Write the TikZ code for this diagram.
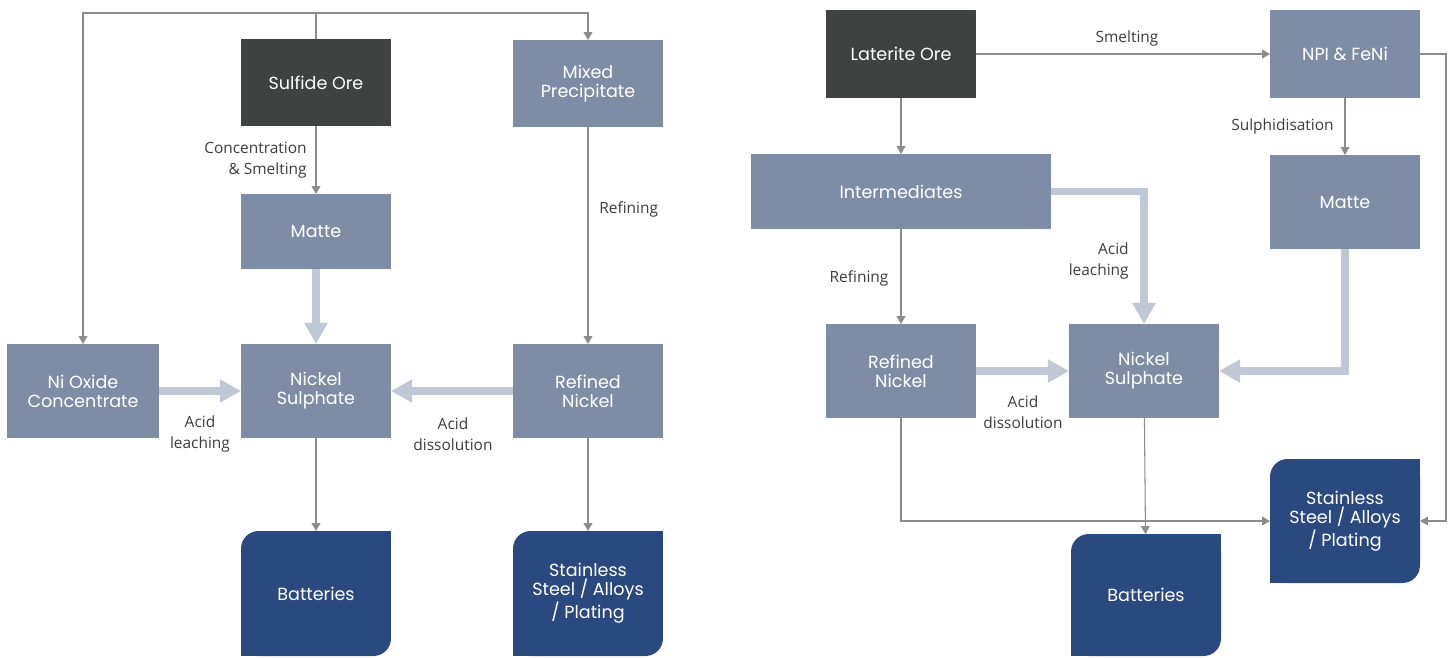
\documentclass[tikz,border=0pt]{standalone}
\usepackage{fontspec}
\newfontfamily\boxfont{Poppins}
\newfontfamily\notefont{Open Sans}
\usetikzlibrary{arrows.meta}
\definecolor{oredark}{HTML}{404241}
\definecolor{stepgrey}{HTML}{7F8CA6}
\definecolor{useblue}{HTML}{2A4A7F}
\definecolor{widearrow}{HTML}{C0C8D6}
\definecolor{thinline}{HTML}{8C8C8C}
\definecolor{notetext}{HTML}{3C3C3C}
\tikzset{
 proc/.style={fill=stepgrey, text=white, font=\boxfont\fontsize{10}{10.8}\selectfont, align=center,
  minimum width=3cm, minimum height=1.88cm, inner sep=0pt, outer sep=0pt},
 ore/.style={proc, fill=oredark},
 enduse/.style={proc, fill=useblue, rounded corners=10pt, minimum height=2.5cm},
 thin/.style={draw=thinline, line width=0.6pt, -{Triangle[length=4.5pt,width=5pt]}},
 wide/.style={draw=widearrow, line width=4.5pt, -{Triangle[length=12pt,width=12.5pt]}},
 note/.style={font=\notefont\fontsize{8.8}{11.9}\selectfont, text=notetext, align=center, inner sep=0pt}
}

\begin{document}
\begin{tikzpicture}[x=0.02cm, y=-0.02cm]
\useasboundingbox (0,0) rectangle (1453,657);

\node[ore, minimum height=1.74cm] (sore) at (316,82.5) {Sulfide Ore};
\node[proc, minimum height=1.74cm] (mix) at (588,83.5) {Mixed\\Precipitate};
\node[proc, minimum height=1.5cm] (matteA) at (316,231.5) {Matte};
\node[proc, minimum width=3.04cm] (nox) at (83,391) {Ni Oxide\\Concentrate};
\node[proc] (nisA) at (316,391) {Nickel\\Sulphate};
\node[proc] (refA) at (588,391) {Refined\\Nickel};
\node[enduse] (batA) at (316,593.5) {Batteries};
\node[enduse] (ssA) at (588,593.5) {Stainless\\Steel / Alloys\\/ Plating};

\node[ore, minimum height=1.76cm] (lore) at (901,54) {Laterite Ore};
\node[proc, minimum height=1.76cm] (npi) at (1345,54) {NPI \& FeNi};
\node[proc, minimum width=6cm, minimum height=1.5cm] (inter) at (901,191.5) {Intermediates};
\node[proc] (matteB) at (1345,202) {Matte};
\node[proc] (refB) at (901,371) {Refined\\Nickel};
\node[proc] (nisB) at (1144,371) {Nickel\\Sulphate};
\node[enduse, minimum height=2.48cm] (ssB) at (1345,521) {Stainless\\Steel / Alloys\\/ Plating};
\node[enduse, minimum height=2.44cm] (batB) at (1146,595) {Batteries};

\foreach \n in {batA,ssA,batB,ssB} {
 \fill[useblue] (\n.north east) rectangle ++(-20,20);
 \fill[useblue] (\n.south west) rectangle ++(20,-20);
}

\node[note, anchor=east, align=right] (cs) at (307,160) {Concentration\\\& Smelting};
\node[note, anchor=west] (refiA) at (599,209) {Refining};
\node[note] (alA) at (200,434) {Acid\\leaching};
\node[note] (adA) at (453,434) {Acid\\dissolution};
\node[note] (smelt) at (1127,38) {Smelting};
\node[note, anchor=east] (sulph) at (1334,126) {Sulphidisation};
\node[note] (refiB) at (859,278) {Refining};
\node[note, anchor=east, align=right] (alB) at (1129,261) {Acid\\leaching};
\node[note] (adB) at (1023,412) {Acid\\dissolution};

\draw[thin] (sore.north) -- ++(0,-26) -| (nox.north);
\draw[thin] (sore.north) -- ++(0,-26) -| (mix.north);
\draw[thin] (sore) -- (matteA);
\draw[thin] (mix) -- (refA);
\draw[thin] (nisA) -- (batA);
\draw[thin] (refA) -- (ssA);
\draw[wide] (matteA) -- (nisA);
\draw[wide] (nox) -- (nisA);
\draw[wide] (refA) -- (nisA);

\draw[thin] (lore) -- (npi);
\draw[thin] (npi) -- (matteB);
\draw[thin] (npi.east) -- ++(26,0) |- (ssB.east);
\draw[thin] (lore) -- (inter);
\draw[thin] (inter) -- (refB);
\draw[thin] (refB.south) |- (ssB.west);
\draw[thin] (nisB) -- (batB);
\draw[wide] (inter.east) -| (nisB.north);
\draw[wide] (matteB.south) |- (nisB.east);
\draw[wide] (refB) -- (nisB);
\end{tikzpicture}
\end{document}
